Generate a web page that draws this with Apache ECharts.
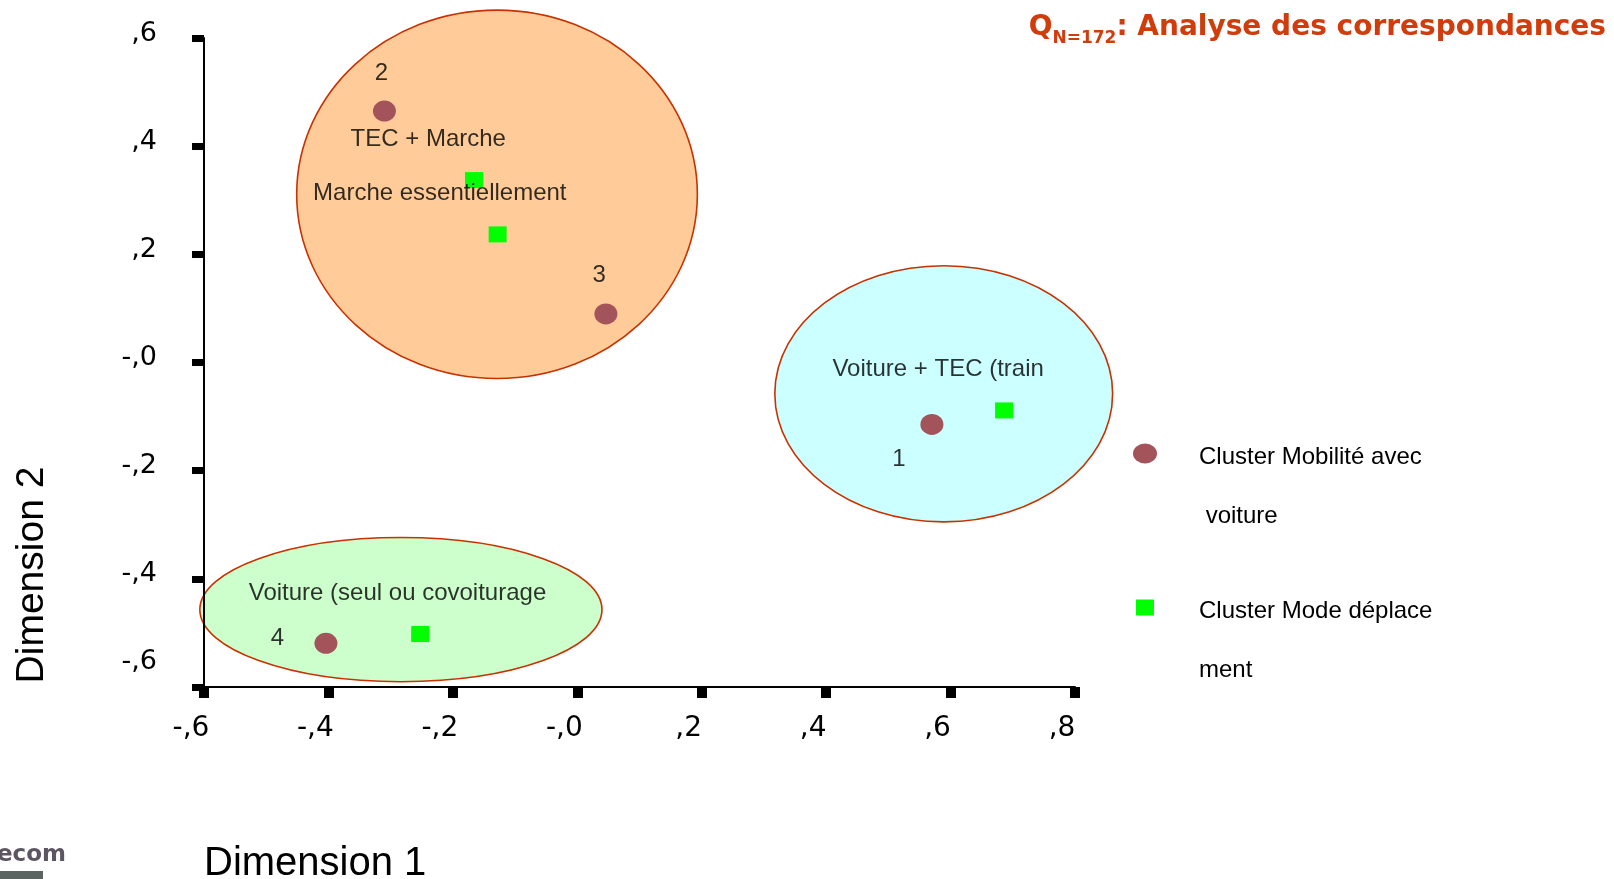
<!DOCTYPE html>
<html><head><meta charset="utf-8">
<script src="https://cdn.jsdelivr.net/npm/echarts@6/dist/echarts.min.js"></script>
<style>html,body{margin:0;padding:0;background:#fff}#c{width:1614px;height:879px}</style>
</head><body><div id="c"></div>
<script>
// Tick labels
const xTickLabels = ['-,6','-,4','-,2','-,0',',2',',4',',6',',8'];
const yTickLabels = ['-,6','-,4','-,2','-,0',',2',',4',',6'];
// Series names
const seriesNames = ['Cluster Mobilité avec\n voiture', 'Cluster Mode déplace\nment'];
// Cluster Mobilité avec voiture (points 1..4)
const mobiliteX = [0.570, -0.310, 0.046, -0.404];
const mobiliteY = [-0.1145, 0.4648, 0.0899, -0.5193];
// Cluster Mode déplacement
const modeX = [-0.166, -0.128, 0.686, -0.2525];
const modeY = [0.3373, 0.2369, -0.0886, -0.502];
// Group ellipses (center and radii in data units)
const groupCenterX = [-0.129, 0.589, -0.2835];
const groupCenterY = [0.311, -0.0578, -0.4569];
const groupRadiusX = [0.322, 0.2715, 0.3232];
const groupRadiusY = [0.3406, 0.2368, 0.1333];
// Annotations
const annotationTexts = ['2','TEC + Marche','Marche essentiellement','3','Voiture + TEC (train','1','Voiture (seul ou covoiturage','4'];
const annotationX = [-0.315, -0.2395, -0.221, 0.035, 0.580, 0.517, -0.289, -0.482];
const annotationY = [0.535, 0.412, 0.313, 0.161, -0.013, -0.179, -0.426, -0.510];

// styles
const groupFills = ['#ffcc99', '#ccffff', '#ccffcc'];
const ELLIPSE_ICON = 'path://M0,10A12,10,0,1,1,24,10A12,10,0,1,1,0,10Z';
const ARIAL = '"Liberation Sans", Arial, sans-serif';
const DEJAVU = '"DejaVu Sans", sans-serif';

function legendFmt(name) {
  const parts = name.split('\n');
  return '{e| }\n{a|' + parts[0] + '}\n{b|' + parts[1] + '}';
}
function legendRich(pad) {
  return {
    e: { lineHeight: 67, fontSize: 24, fontFamily: ARIAL },
    a: { lineHeight: 58.5, fontSize: 24, fontFamily: ARIAL, color: '#000', padding: [0, 0, 0, pad] },
    b: { lineHeight: 58.5, fontSize: 24, fontFamily: ARIAL, color: '#000', padding: [0, 0, 0, pad] }
  };
}

const chart = echarts.init(document.getElementById('c'));
chart.setOption({
  animation: false,
  backgroundColor: '#fff',
  title: {
    text: '{q|Q}{s|N=172}{t|: Analyse des correspondances}',
    right: 8, top: 8, padding: 0,
    textStyle: {
      rich: {
        q: { fontSize: 28, fontWeight: 'bold', fontFamily: DEJAVU, color: '#d03c0c', lineHeight: 39 },
        s: { fontSize: 17, fontWeight: 'bold', fontFamily: DEJAVU, color: '#d03c0c', lineHeight: 17, verticalAlign: 'bottom' },
        t: { fontSize: 28, fontWeight: 'bold', fontFamily: DEJAVU, color: '#d03c0c', lineHeight: 39 }
      }
    }
  },
  grid: { left: 204, right: 539, top: 38, bottom: 192, containLabel: false, outerBoundsMode: 'none' },
  xAxis: {
    type: 'value', min: -0.6, max: 0.8, interval: 0.2,
    splitLine: { show: false },
    axisLine: { onZero: false, lineStyle: { color: '#000', width: 2 } },
    axisTick: { length: 11, lineStyle: { color: '#000', width: 10 } },
    axisLabel: {
      margin: 28, fontSize: 28, fontFamily: DEJAVU, color: '#000', padding: [0, 26, 0, 0],
      formatter: (v, i) => xTickLabels[i]
    }
  },
  yAxis: {
    type: 'value', min: -0.6, max: 0.6, interval: 0.2,
    splitLine: { show: false },
    axisLine: { onZero: false, lineStyle: { color: '#000', width: 2 } },
    axisTick: { length: 12, lineStyle: { color: '#000', width: 7 } },
    axisLabel: {
      margin: 47, fontSize: 27, fontFamily: DEJAVU, color: '#000',
      formatter: (v, i) => (i === 0 ? '{low|' : '{n|') + yTickLabels[i] + '}',
      rich: {
        n: { fontSize: 27, fontFamily: DEJAVU, color: '#000', padding: [0, 0, 9, 0] },
        low: { fontSize: 27, fontFamily: DEJAVU, color: '#000', padding: [0, 0, 50, 0] }
      }
    }
  },
  legend: [
    {
      data: [seriesNames[0]], left: 1133, top: 383, padding: 0,
      itemWidth: 24, itemHeight: 20, icon: ELLIPSE_ICON, selectedMode: false,
      formatter: legendFmt, textStyle: { rich: legendRich(37) }
    },
    {
      data: [seriesNames[1]], left: 1136, top: 537, padding: 0,
      itemWidth: 18, itemHeight: 16, icon: 'rect', selectedMode: false,
      formatter: legendFmt, textStyle: { rich: legendRich(40) }
    }
  ],
  graphic: [
    { type: 'text', x: 204, y: 864, style: { text: 'Dimension 1', fontSize: 40, fontFamily: ARIAL, fill: '#000', align: 'left', verticalAlign: 'middle' } },
    { type: 'text', x: 32, y: 575, rotation: Math.PI / 2, style: { text: 'Dimension 2', fontSize: 39, fontFamily: ARIAL, fill: '#000', align: 'center', verticalAlign: 'middle' } },
    { type: 'text', x: -3, y: 855, style: { text: 'ecom', fontSize: 23, fontWeight: 'bold', fontFamily: DEJAVU, fill: '#4a4452', opacity: 0.9, verticalAlign: 'middle' } },
    { type: 'rect', shape: { x: 0, y: 871, width: 43, height: 8 }, style: { fill: '#5c6461' } }
  ],
  series: [
    {
      type: 'custom', name: 'groups', z: -1, silent: true,
      data: groupCenterX.map((x, i) => [x, groupCenterY[i], groupRadiusX[i], groupRadiusY[i]]),
      renderItem: (params, api) => {
        const c = api.coord([api.value(0), api.value(1)]);
        const s = api.size([api.value(2), api.value(3)]);
        return {
          type: 'ellipse',
          shape: { cx: c[0], cy: c[1], rx: s[0], ry: s[1] },
          style: { fill: groupFills[params.dataIndex], stroke: '#c83200', lineWidth: 1.6 }
        };
      }
    },
    {
      type: 'scatter', name: seriesNames[0], symbol: ELLIPSE_ICON, symbolSize: [23, 21],
      itemStyle: { color: '#a3545a', opacity: 1 }, z: 3,
      data: mobiliteX.map((x, i) => [x, mobiliteY[i]])
    },
    {
      type: 'scatter', name: seriesNames[1], symbol: 'rect', symbolSize: [18, 16],
      itemStyle: { color: '#00ff00', opacity: 1 }, z: 3,
      data: modeX.map((x, i) => [x, modeY[i]])
    },
    {
      type: 'scatter', name: 'annotations', symbolSize: 1, silent: true, z: 4,
      itemStyle: { color: 'rgba(0,0,0,0)' },
      data: annotationX.map((x, i) => [x, annotationY[i]]),
      label: {
        show: true, position: 'inside', fontSize: 24, fontFamily: ARIAL, color: '#000',
        formatter: p => annotationTexts[p.dataIndex]
      }
    }
  ]
});
</script>
</body></html>
